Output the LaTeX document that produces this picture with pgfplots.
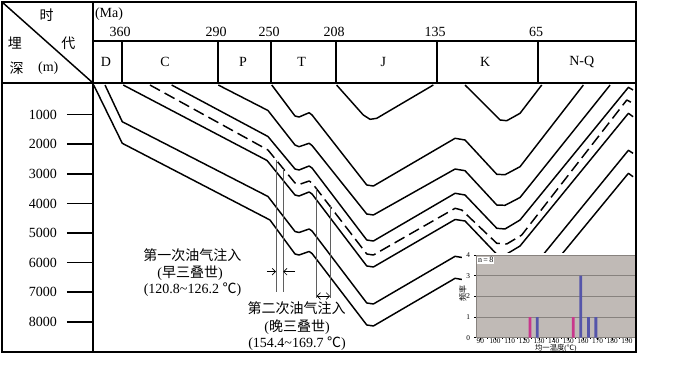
\documentclass[border=0pt]{standalone}
\usepackage{fontspec}
\setmainfont{Liberation Serif}
\newfontfamily\cjk{Noto Sans CJK SC}
\usepackage{pgfplots}
\pgfplotsset{compat=1.18}
\usetikzlibrary{arrows.meta}

\definecolor{insetbg}{RGB}{192,186,182}
\definecolor{insetgrid}{RGB}{135,130,126}
\definecolor{barpink}{RGB}{200,55,140}
\definecolor{barblue}{RGB}{85,85,170}
\definecolor{injgray}{RGB}{95,95,95}

\tikzset{curve/.style={black, line width=1.1pt, line join=round, mark=none},
         inj/.style={injgray, line width=0.7pt, mark=none},
         px/.style={shift={(O)}, x=0.75pt, y=-0.75pt, shift={(-93,-83)}}}

\begin{document}
\begin{tikzpicture}[font=\fontsize{10.5}{12}\selectfont]
\begin{axis}[
  scale only axis, width=407.25pt, height=201.75pt,
  x coord trafo/.code={\pgfmathparse{(#1)>=360 ? 122+(360-(#1))*1.381 : ((#1)>=290 ? 122+(360-(#1))*1.37143 : ((#1)>=250 ? 218+(290-(#1))*1.325 : ((#1)>=208 ? 271+(250-(#1))*1.54762 : ((#1)>=135 ? 336+(208-(#1))*1.38356 : ((#1)>=65 ? 437+(135-(#1))*1.44286 : 538+(65-(#1))*1.46154)))))}},
  xmin=381, xmax=-2,
  y dir=reverse, ymin=-68, ymax=9020,
  xtick=\empty,
  ytick={1000,2000,3000,4000,5000,6000,7000,8000},
  ytick pos=left, tick align=outside, major tick length=19.5pt,
  ytick style={line width=1.1pt, black},
  yticklabel style={font=\fontsize{10.5}{12}\selectfont, anchor=east, xshift=-4pt},
  /pgf/number format/1000 sep={},
  /pgf/number format/assume math mode=true,
  axis line style={line width=1.2pt},
  clip=false,
]
% burial curves (age Ma, depth m)
\addplot[curve] table {
380.5 0
359.8 1969
250.8 4560
234.5 5709
231.9 5743
225.4 5624
223.5 5692
185.8 8107
181.0 8141
122.5 6530
115.6 6587
93.6 7712
87.9 7736
77.5 7432
3.2 2983
0 3098
};
\addplot[curve] table {
372.3 0
359.8 1240
252.3 3766
234.5 4949
231.9 4983
225.4 4864
223.5 4932
185.8 7364
181.0 7398
122.5 5787
115.6 5844
93.6 6969
87.9 6992
77.5 6688
3.2 2206
0 2307
};
\addplot[curve] table {
359.1 0
253.0 2550
234.5 3716
231.9 3750
225.4 3614
223.5 3682
185.8 6114
181.0 6148
122.5 4543
115.6 4594
93.6 5719
87.9 5743
77.5 5439
3.2 956
0 1071
};
\addplot[curve, dash pattern=on 8.5pt off 4pt] table {
339.6 0
252.3 2196
234.5 3310
231.9 3361
225.4 3243
223.5 3310
185.8 5709
181.0 5743
122.5 4165
117.9 4223
93.6 5347
86.7 5371
76.3 5067
4.3 507
0 618
};
\addplot[curve] table {
323.8 0
252.3 1740
234.5 2838
231.9 2871
225.4 2736
223.5 2804
185.8 5236
181.0 5270
122.5 3658
115.6 3716
93.6 4841
87.9 4864
77.5 4560
3.2 78
0 169
};
\addplot[curve] table {
289.8 0
252.3 861
234.5 2027
231.9 2084
225.4 1969
223.5 2044
185.8 4358
181.0 4391
122.5 2838
115.6 2895
93.6 4054
87.9 4064
77.5 3800
15.7 0
};
\addplot[curve] table {
249.5 0
234.5 1047
231.9 1081
225.4 936
223.5 1013
185.8 3378
181.0 3412
122.5 1800
115.6 1858
93.6 3017
87.9 3030
77.5 2760
34.0 0
};
\addplot[curve] table {
207.6 0
188.3 1013
183.4 1159
178.6 1125
137.7 0
};
\addplot[curve] table {
115.6 0
92.7 1115
91.3 1182
86.7 1206
77.5 956
62.5 0
};
% hydrocarbon charge markers
\addplot[inj] coordinates {(246.8,2540) (246.8,6982)};
\addplot[inj] coordinates {(242.1,2830) (242.1,6982)};
\addplot[inj] coordinates {(220.5,3501) (220.5,7205)};
\addplot[inj] coordinates {(211.9,4048) (211.9,7205)};
\addplot[black, line width=0.5pt, -{Straight Barb[length=2.5pt]}] coordinates {(253.2,6307) (246.8,6307)};
\addplot[black, line width=0.5pt, -{Straight Barb[length=2.5pt]}] coordinates {(234.5,6307) (242.1,6307)};
\addplot[black, line width=0.5pt, {Straight Barb[length=2.5pt]}-{Straight Barb[length=2.5pt]}] coordinates {(220.5,7128) (211.9,7128)};
% header: period boundaries and labels
\draw[line width=1.1pt] (axis cs:360,-1486) -- (axis cs:360,-68);
\draw[line width=1.1pt] (axis cs:290,-1486) -- (axis cs:290,-68);
\draw[line width=1.1pt] (axis cs:250,-1486) -- (axis cs:250,-68);
\draw[line width=1.1pt] (axis cs:208,-1486) -- (axis cs:208,-68);
\draw[line width=1.1pt] (axis cs:135,-1486) -- (axis cs:135,-68);
\draw[line width=1.1pt] (axis cs:65,-1486) -- (axis cs:65,-68);
\node[xshift=-1.5pt] at (axis cs:360,-1790) {360};
\node[xshift=-1.5pt] at (axis cs:290,-1790) {290};
\node[xshift=-1.5pt] at (axis cs:250,-1790) {250};
\node[xshift=-1.5pt] at (axis cs:208,-1790) {208};
\node[xshift=-1.5pt] at (axis cs:135,-1790) {135};
\node[xshift=-1.5pt] at (axis cs:65,-1790) {65};
\node at (axis cs:371.6,-777) {D};
\node at (axis cs:328.6,-777) {C};
\node at (axis cs:271.1,-777) {P};
\node at (axis cs:230.2,-777) {T};
\node at (axis cs:173.8,-777) {J};
\node at (axis cs:101.7,-777) {K};
\node at (axis cs:35.1,-777) {N-Q};
\coordinate (O) at (axis description cs:0,1);
\end{axis}

\begin{scope}[px]
\path (0,0) rectangle (700,368);
\fill[white] (462,253) rectangle (636,352);
\coordinate (insetSW) at (476,337.7);
\end{scope}

% inset histogram
\begin{axis}[
  at={(insetSW)}, anchor=south west,
  scale only axis, width=119.8pt, height=62pt,
  xmin=87, xmax=196, ymin=0, ymax=4,
  axis background/.style={fill=insetbg},
  xtick={90,100,...,190}, minor x tick num=1,
  ytick={0,1,2,3,4},
  ymajorgrids, grid style={draw=insetgrid, line width=0.5pt},
  tick label style={font=\fontsize{5.5}{6}\selectfont},
  axis line style={draw=insetgrid, line width=0.4pt},
  tick style={black, line width=0.4pt}, major tick length=1.5pt, minor tick length=1pt,
  tick align=outside, xtick pos=bottom, ytick pos=left,
  xticklabel style={yshift=1.2pt, inner sep=0.5pt},
  yticklabel style={xshift=0.5pt},
  xlabel={{\cjk 均一温度}({\cjk ℃})},
  xlabel style={font=\fontsize{5.5}{6}\selectfont, at={(axis description cs:0.5,0)}, anchor=center, yshift=-8pt, inner sep=0pt},
  ylabel={\cjk 频率},
  ylabel style={font=\fontsize{6}{7}\selectfont, at={(axis description cs:-0.082,0.54)}, anchor=center},
  /pgf/number format/assume math mode=true,
  clip=false,
]
\addplot[ybar, bar width=2.1pt, bar shift=0pt, fill=barpink, draw=none] coordinates {(123.8,1) (153.4,1)};
\addplot[ybar, bar width=2.1pt, bar shift=0pt, fill=barblue, draw=none] coordinates {(128.8,1) (158.5,3) (163.7,1) (168.8,1)};
\node[fill=white, anchor=north west, inner sep=0.8pt, font=\fontsize{6}{7}\selectfont] at (rel axis cs:0.005,0.985) {n\,=\,8};
\end{axis}

\begin{scope}[px]
% annotations
\node at (192.5,255) {\cjk 第一次油气注入};
\node at (190,273.3) {({\cjk 早三叠世})};
\node at (192.5,290) {(120.8\textasciitilde 126.2 {\cjk ℃})};
\node at (296.7,308.3) {\cjk 第二次油气注入};
\node at (297,326.7) {({\cjk 晚三叠世})};
\node at (297,343.3) {(154.4\textasciitilde 169.7 {\cjk ℃})};
% header text
\node at (109,14) {(Ma)};
\node at (46.7,15) {\cjk 时};
\node at (68.3,43.3) {\cjk 代};
\node at (15,43.3) {\cjk 埋};
\node at (16.7,68.3) {\cjk 深};
\node at (48.3,68.3) {(m)};
% frame
\draw[line width=1.3pt] (2,2) rectangle (636,352);
\draw[line width=1.2pt] (93,2) -- (93,352);
\draw[line width=1.2pt] (2,83) -- (636,83);
\draw[line width=1.1pt] (2,2) -- (93,83);
\draw[line width=1.0pt] (93,41) -- (636,41);
\end{scope}
\end{tikzpicture}
\end{document}
